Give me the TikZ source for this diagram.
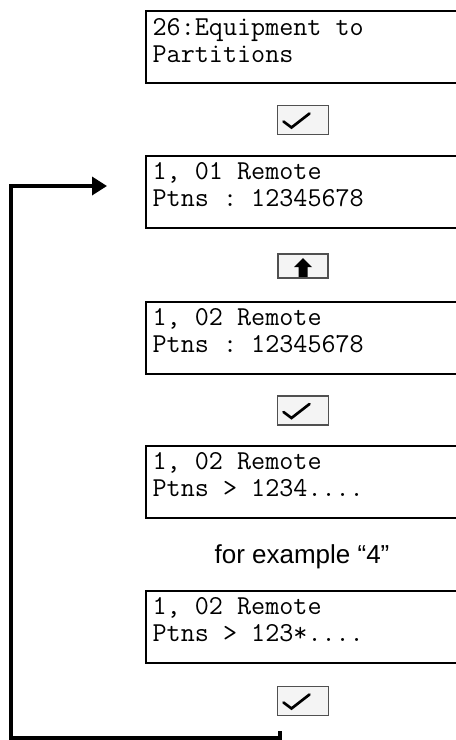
\documentclass[tikz,border=0pt]{standalone}
\usepackage{fontspec}
\setsansfont{Liberation Sans}
\usetikzlibrary{arrows.meta, calc, positioning}

\definecolor{ink}{RGB}{0,0,0}
\definecolor{keyedge}{RGB}{80,80,80}
\definecolor{keyface}{RGB}{244,244,244}

% two display lines, with the font's own (fixed) word space
\newcommand{\lcdtext}[2]{\frenchspacing\spaceskip=0pt\xspaceskip=0pt\relax #1\\#2}

\tikzset{
    line join=round,
    screen/.style={
        rectangle,
        draw=ink,
        line width=1.5pt,
        anchor=west,
        text width=240pt,
        minimum height=54pt,
        text height=13.5pt,
        text depth=31.5pt,
        inner xsep=5pt,
        font=\ttfamily\fontsize{20.5}{20.25}\selectfont,
        text=ink
    },
    key/.style={
        rectangle,
        draw=keyedge,
        fill=keyface,
        line width=1.1pt,
        inner sep=0pt
    },
    okkey/.style={
        key,
        minimum width=38.25pt,
        minimum height=21.75pt,
        path picture={
            \coordinate (pp) at (path picture bounding box.north west);
            \draw[ink, line width=2pt, line cap=round]
                ($(pp)+(6,16)$) -- ($(pp)+(14,22)$) -- ($(pp)+(32,8)$);
        }
    },
    upkey/.style={
        key,
        minimum width=37.5pt,
        minimum height=18pt,
        path picture={
            \coordinate (pp) at (path picture bounding box.north west);
            \fill[ink]
                ($(pp)+(25,4)$) -- ($(pp)+(34,13)$) -- ($(pp)+(29.5,13)$)
                -- ($(pp)+(29.5,23)$) -- ($(pp)+(20.5,23)$)
                -- ($(pp)+(20.5,13)$) -- ($(pp)+(16,13)$) -- cycle;
        }
    },
    hint/.style={
        font=\sffamily\fontsize{19.5}{23}\selectfont,
        text=ink
    },
    loopline/.style={
        draw=ink,
        line width=2.6pt,
        -{Triangle[length=11.25pt, width=13.5pt]}
    }
}

\begin{document}
\begin{tikzpicture}[x=0.75pt, y=-0.75pt]
\path[use as bounding box, clip] (0,0) rectangle (456,740);

% display screens, top to bottom
\node[screen] (s1) at (145,47)    {\lcdtext{26:Equipment to}{Partitions}};
\node[screen] (s2) at (145,191.5) {\lcdtext{1, 01 Remote}{Ptns : 12345678}};
\node[screen] (s3) at (145,337.5) {\lcdtext{1, 02 Remote}{Ptns : 12345678}};
\node[screen] (s4) at (145,481.5) {\lcdtext{1, 02 Remote}{Ptns > 1234....}};
\node[screen] (s5) at (145,626.5) {\lcdtext{1, 02 Remote}{Ptns > 123*....}};

% keys pressed between screens
\node[okkey] (k1) at (303,120)   {};
\node[upkey] (k2) at (303,266)   {};
\node[okkey] (k3) at (303,410.5) {};
\node[hint]  (h1) at (302,557)   {for example “4”};
\node[okkey] (k4) at (303,701)   {};

% back to the first remote
\coordinate (loopstart) at (280,731);
\coordinate (looptip) at (107,186);
\draw[loopline] (loopstart) |- (11,738) -- (11,186) -- (looptip);

\end{tikzpicture}
\end{document}
